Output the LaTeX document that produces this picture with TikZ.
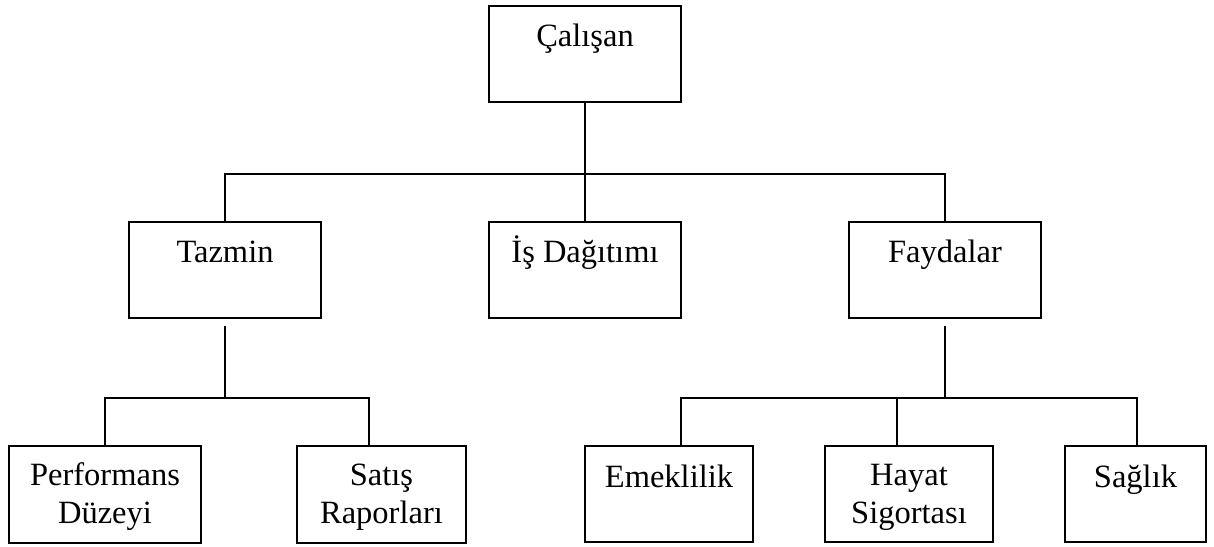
\documentclass[tikz,border=0pt]{standalone}
\usepackage{fontspec}
\setmainfont{Liberation Serif}
\begin{document}
\begin{tikzpicture}[x=1pt,y=-1pt,
  orgbox/.style={draw, line width=1.8pt, minimum width=#1, minimum height=96pt,
                 inner sep=0pt, outer sep=0pt, anchor=north west},
  lbl/.style={anchor=base, inner sep=0pt, font=\fontsize{32.5}{38}\selectfont, align=center},
  link/.style={line width=1.8pt}]
\useasboundingbox (0,0) rectangle (1214,546);

% boxes
\node[orgbox=192pt] (cal) at (489,6) {};
\node[orgbox=192pt] (taz) at (129,222) {};
\node[orgbox=192pt] (isd) at (489,222) {};
\node[orgbox=192pt] (fay) at (849,222) {};
\node[orgbox=192pt, minimum height=97pt] (perf) at (9,446) {};
\node[orgbox=169pt, minimum height=97pt] (sat) at (297,446) {};
\node[orgbox=168pt] (eme) at (585,446) {};
\node[orgbox=168pt] (hay) at (825,446) {};
\node[orgbox=141pt] (sag) at (1065,446) {};

% labels (two-line labels sit on the baseline of their last line)
\node[lbl] (calT) at ([yshift=-40.5pt]cal.north) {Çalışan};
\node[lbl] (tazT) at ([yshift=-40pt]taz.north) {Tazmin};
\node[lbl] (isdT) at ([yshift=-40pt]isd.north) {İş Dağıtımı};
\node[lbl] (fayT) at ([yshift=-40pt]fay.north) {Faydalar};
\node[lbl] (perfT) at ([yshift=-77pt]perf.north) {Performans\\Düzeyi};
\node[lbl] (satT) at ([yshift=-77pt]sat.north) {Satış\\Raporları};
\node[lbl] (emeT) at ([yshift=-41pt]eme.north) {Emeklilik};
\node[lbl] (hayT) at ([yshift=-77pt]hay.north) {Hayat\\Sigortası};
\node[lbl] (sagT) at ([yshift=-41pt]sag.north) {Sağlık};

% junction points
\coordinate (j0) at (585,174);
\coordinate (t1) at (225,326);
\coordinate (t2) at (225,398);
\coordinate (f1) at (945,326);
\coordinate (f2) at (945,398);

% top level
\draw[link] (cal.south) -- (isd.north);
\draw[link] (taz.north) |- (j0) -| (fay.north);

% Tazmin branch
\draw[link] (t1) -- (t2);
\draw[link] (perf.north) |- (t2) -| ([xshift=-12.5pt]sat.north);

% Faydalar branch
\draw[link] (f1) -- (f2);
\draw[link] ([xshift=12pt]eme.north) |- (f2) -| ([xshift=1.5pt]sag.north);
\draw[link] ([xshift=-12pt]hay.north) -- ([xshift=-12pt]hay.north |- f2);
\end{tikzpicture}
\end{document}
